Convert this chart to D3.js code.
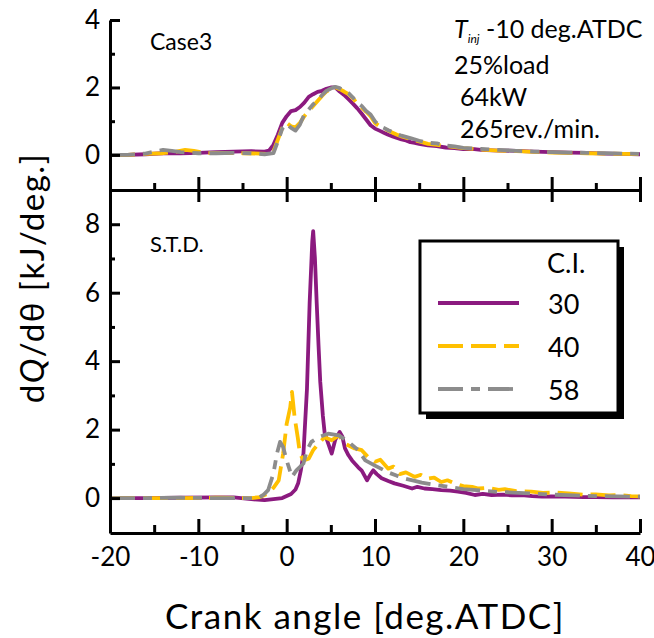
<!DOCTYPE html>
<html>
<head>
<meta charset="utf-8">
<script src="https://cdn.jsdelivr.net/npm/d3@7"></script>
<style>
  body { margin: 0; background: #fff; }
  svg { display: block; }
  text { font-family: Lato, "Open Sans", sans-serif; fill: #000; }
</style>
</head>
<body>
<div id="container"></div>
<script>
let w = 654;
let h = 638;

// DATA  [crank angle (deg.ATDC), dQ/dtheta (kJ/deg.)]
// upper panel : Case3
let case3_ci30 = [[-20,0],[-18,0],[-16,0.02],[-14,0.05],[-12,0.05],[-10,0.06],[-8,0.08],[-6,0.1],[-4,0.11],[-2.5,0.1],[-2,0.13],[-1.5,0.3],[-1,0.6],[-0.5,0.95],[0,1.15],[0.5,1.3],[1,1.33],[1.5,1.42],[2,1.55],[2.5,1.72],[3,1.8],[3.5,1.87],[4,1.9],[4.5,1.96],[5,2.0],[5.5,2.0],[6,1.88],[6.5,1.78],[7,1.65],[7.5,1.52],[8,1.38],[8.5,1.22],[9,1.05],[9.5,0.88],[10,0.78],[10.5,0.72],[11,0.66],[11.5,0.6],[12,0.55],[12.5,0.5],[13,0.46],[13.5,0.43],[14,0.38],[14.5,0.36],[15,0.33],[16,0.28],[17,0.26],[18,0.22],[19,0.2],[20,0.17],[21,0.18],[22,0.15],[24,0.13],[26,0.12],[28,0.1],[30,0.08],[32,0.07],[34,0.06],[36,0.04],[38,0.03],[40,0.02]];
let case3_ci40 = [[-20,0],[-18,0],[-16,0.03],[-14,0.05],[-12.5,0.1],[-11.5,0.15],[-10.5,0.12],[-9,0.05],[-7,0.06],[-5,0.05],[-3,0.04],[-2,0.03],[-1.5,0.1],[-1,0.45],[-0.5,0.8],[0,0.95],[0.5,0.85],[1,0.82],[1.5,0.95],[2,1.15],[2.5,1.3],[3,1.45],[3.5,1.6],[4,1.75],[4.5,1.88],[5,1.95],[5.5,2.0],[6,1.95],[6.5,1.88],[7,1.8],[7.5,1.68],[8,1.52],[8.5,1.4],[9,1.28],[9.5,1.15],[10,0.95],[10.5,0.85],[11,0.78],[11.5,0.72],[12,0.66],[12.5,0.6],[13,0.55],[14,0.47],[15,0.4],[16,0.33],[17,0.3],[18,0.26],[19,0.23],[20,0.2],[22,0.16],[24,0.13],[26,0.11],[28,0.09],[30,0.07],[32,0.06],[34,0.05],[36,0.04],[38,0.03],[40,0.02]];
let case3_ci58 = [[-20,0],[-18,0],[-16,0.04],[-15,0.1],[-14,0.15],[-13,0.12],[-12,0.08],[-10,0.05],[-8,0.05],[-6,0.06],[-4,0.05],[-2.5,0.02],[-1.5,0.05],[-1,0.4],[-0.5,0.78],[0,0.92],[0.5,0.8],[1,0.72],[1.5,0.9],[2,1.2],[2.5,1.35],[3,1.5],[3.5,1.62],[4,1.77],[4.5,1.9],[5,1.97],[5.5,2.02],[6,1.98],[6.5,1.9],[7,1.83],[7.5,1.7],[8,1.55],[8.5,1.45],[9,1.3],[9.5,1.2],[10,1.0],[10.5,0.86],[11,0.8],[11.5,0.73],[12,0.68],[12.5,0.62],[13,0.57],[14,0.5],[15,0.42],[16,0.36],[17,0.34],[18,0.28],[19,0.25],[20,0.21],[22,0.18],[24,0.15],[26,0.12],[28,0.1],[30,0.08],[32,0.07],[34,0.06],[36,0.05],[38,0.04],[40,0.03]];

// lower panel : S.T.D.
let std_ci30 = [[-20,0],[-16,0],[-12,0.01],[-8,0.02],[-6,0.02],[-4,-0.03],[-2.5,-0.06],[-1.5,-0.03],[-0.5,0],[0.5,0.12],[1,0.25],[1.3,0.43],[1.6,0.8],[1.9,1.3],[2.3,3.2],[2.6,5.7],[2.9,7.5],[3.0,7.8],[3.2,7.0],[3.4,5.7],[3.6,4.5],[3.8,3.4],[4.1,2.4],[4.3,1.9],[4.7,1.6],[5.1,1.3],[5.5,1.7],[6.0,1.93],[6.3,1.8],[6.6,1.45],[7.0,1.25],[7.4,1.1],[8.1,0.9],[8.5,0.8],[9.1,0.52],[9.5,0.7],[9.8,0.81],[10.2,0.7],[10.75,0.58],[11.5,0.5],[12.2,0.43],[13.2,0.36],[14.2,0.28],[14.8,0.33],[15.6,0.28],[16.5,0.26],[17.5,0.23],[18.5,0.22],[19.4,0.19],[20.3,0.15],[21.3,0.09],[22.2,0.12],[23.2,0.09],[24.5,0.1],[25.5,0.08],[26.6,0.09],[27.8,0.06],[28.9,0.04],[30,0.05],[31.5,0.04],[33.6,0.03],[35,0.03],[37,0.02],[40,0.02]];
let std_ci40 = [[-20,0],[-16,0],[-12,0],[-8,0.01],[-5,0],[-4,0],[-3,0.03],[-2.1,0.14],[-1.5,0.3],[-0.9,0.52],[-0.4,1.3],[0,2.17],[0.4,2.65],[0.6,3.1],[0.9,2.36],[1.25,1.78],[1.5,1.3],[1.9,1.1],[2.5,1.15],[3.0,1.4],[3.6,1.59],[4.3,1.78],[5.1,1.69],[5.9,1.83],[6.6,1.59],[7.7,1.45],[8.5,1.4],[9.2,1.2],[10,1.06],[10.6,1.12],[11.5,0.86],[12.1,0.92],[12.8,0.7],[13.5,0.75],[14.5,0.62],[15.2,0.68],[16,0.57],[16.7,0.6],[17.5,0.47],[18.2,0.52],[19,0.43],[20,0.35],[21,0.33],[21.7,0.28],[22.8,0.3],[24,0.24],[24.7,0.26],[26,0.2],[27.7,0.19],[29,0.15],[30.5,0.16],[31.9,0.14],[33.5,0.1],[35,0.11],[36.5,0.08],[37.5,0.09],[39,0.06],[40,0.05]];
let std_ci58 = [[-20,0],[-16,0],[-12,0.01],[-8,0],[-5,0],[-3.2,0],[-2.6,0.1],[-2.1,0.23],[-1.5,0.72],[-1.1,1.3],[-0.75,1.64],[-0.4,1.49],[0,1.1],[0.6,0.62],[1.1,0.81],[1.9,1.01],[2.3,1.4],[2.8,1.64],[3.6,1.78],[4.7,1.88],[5.9,1.83],[7.0,1.64],[8.1,1.4],[8.9,1.1],[10,0.95],[11.5,0.75],[12.5,0.65],[13.4,0.57],[14.5,0.5],[15.3,0.45],[16.5,0.4],[18,0.34],[19,0.3],[20,0.26],[22,0.22],[24,0.18],[25,0.17],[27.5,0.14],[30,0.1],[32.5,0.08],[35,0.06],[37.5,0.05],[40,0.04]];

let ciNames = ["30", "40", "58"];
let xTicks = [-20, -10, 0, 10, 20, 30, 40];
let xMinor = [-15, -5, 5, 15, 25, 35];
let topTicks = [0, 2, 4];
let topMinor = [1, 3];
let botTicks = [0, 2, 4, 6, 8];
let botMinor = [1, 3, 5, 7];

// STYLES
let colors = ["#8b1a7f", "#ffc000", "#8c8c8c"];
let dashes = [null, "25,8", "25,8,9,8"];
let fmt = function(d){ return String(d); };   // plain hyphen minus, no decimals

// SVG
let viz = d3.select("#container").append("svg")
    .attr("width", w)
    .attr("height", h)
    .style("background-color", "white");

// SCALES
let xScale = d3.scaleLinear().domain([-20, 40]).range([110, 640]);
let yTop = d3.scaleLinear().domain([-1.04, 4]).range([190, 20]);
let yBot = d3.scaleLinear().domain([-1.02, 9]).range([533, 190]);

function styleAxis(g) {
  g.selectAll("path").attr("stroke", "#000").attr("stroke-width", 3);
  g.selectAll("line").attr("stroke", "#000").attr("stroke-width", 3);
  g.selectAll("text").style("font-size", "26px").attr("fill", "#000");
}

// LINES
function drawLines(panel, yScale, sets) {
  let lineMaker = d3.line()
      .x(function(d){ return xScale(d[0]); })
      .y(function(d){ return yScale(d[1]); });
  sets.forEach(function(s, i){
    panel.append("path")
      .datum(s)
      .attr("d", lineMaker)
      .attr("fill", "none")
      .attr("stroke", colors[i])
      .attr("stroke-width", 3.8)
      .attr("stroke-linejoin", "round")
      .attr("stroke-dasharray", dashes[i]);
  });
}

drawLines(viz.append("g"), yTop, [case3_ci30, case3_ci40, case3_ci58]);
drawLines(viz.append("g"), yBot, [std_ci30, std_ci40, std_ci58]);

// AXES - upper panel
viz.append("g").attr("transform", "translate(110,0)")
  .call(d3.axisLeft(yTop).tickValues(topTicks).tickFormat(fmt).tickSizeInner(-10).tickSizeOuter(0).tickPadding(10))
  .call(styleAxis);
viz.append("g").attr("transform", "translate(110,0)")
  .call(d3.axisLeft(yTop).tickValues(topMinor).tickSizeInner(-5).tickSizeOuter(0).tickFormat(""))
  .call(styleAxis).select(".domain").remove();
viz.append("g").attr("transform", "translate(0,190)")
  .call(d3.axisBottom(xScale).tickValues(xTicks).tickSizeInner(-13).tickSizeOuter(0).tickFormat(""))
  .call(styleAxis);
viz.append("g").attr("transform", "translate(0,190)")
  .call(d3.axisBottom(xScale).tickValues(xMinor).tickSizeInner(-7).tickSizeOuter(0).tickFormat(""))
  .call(styleAxis).select(".domain").remove();

// AXES - lower panel
viz.append("g").attr("transform", "translate(110,0)")
  .call(d3.axisLeft(yBot).tickValues(botTicks).tickFormat(fmt).tickSizeInner(-10).tickSizeOuter(0).tickPadding(10))
  .call(styleAxis);
viz.append("g").attr("transform", "translate(110,0)")
  .call(d3.axisLeft(yBot).tickValues(botMinor).tickSizeInner(-5).tickSizeOuter(0).tickFormat(""))
  .call(styleAxis).select(".domain").remove();
viz.append("g").attr("transform", "translate(0,190)")
  .call(d3.axisTop(xScale).tickValues(xTicks).tickSizeInner(-12).tickSizeOuter(0).tickFormat(""))
  .call(styleAxis).select(".domain").remove();
viz.append("g").attr("transform", "translate(0,533)")
  .call(d3.axisBottom(xScale).tickValues(xTicks).tickFormat(fmt).tickSizeInner(-14).tickSizeOuter(0).tickPadding(15))
  .call(styleAxis);
viz.append("g").attr("transform", "translate(0,533)")
  .call(d3.axisBottom(xScale).tickValues(xMinor).tickSizeInner(-8).tickSizeOuter(0).tickFormat(""))
  .call(styleAxis).select(".domain").remove();

// AXIS TITLES
viz.append("text")
  .attr("x", 365).attr("y", 629)
  .attr("text-anchor", "middle")
  .style("font-size", "35px")
  .style("letter-spacing", "1.5px")
  .text("Crank angle [deg.ATDC]");

let yLab = viz.append("text")
  .attr("transform", "translate(44,278) rotate(-90)")
  .attr("text-anchor", "middle")
  .style("font-size", "33px")
  .style("letter-spacing", "1.5px");
yLab.append("tspan").text("d");
yLab.append("tspan").style("font-style", "italic").text("Q");
yLab.append("tspan").text("/d\u03b8 [kJ/deg.]");

// PANEL NOTES
viz.append("text").attr("x", 150).attr("y", 50).style("font-size", "23px").text("Case3");
viz.append("text").attr("x", 150).attr("y", 252).style("font-size", "22px").text("S.T.D.");

let tinj = viz.append("text").attr("x", 454).attr("y", 38).style("font-size", "25px");
tinj.append("tspan").style("font-style", "italic").text("T");
tinj.append("tspan").style("font-style", "italic").style("font-size", "12px").attr("dy", 5).text("inj");
tinj.append("tspan").attr("dy", -5).text(" -10 deg.ATDC");
viz.append("text").attr("x", 454).attr("y", 74).style("font-size", "25px").text("25%load");
viz.append("text").attr("x", 460).attr("y", 106).style("font-size", "25px").text("64kW");
viz.append("text").attr("x", 460).attr("y", 138).style("font-size", "25px").text("265rev./min.");

// LEGEND
let leg = viz.append("g");
leg.append("rect").attr("x", 426).attr("y", 247).attr("width", 198).attr("height", 172).attr("fill", "#000");
leg.append("rect").attr("x", 420).attr("y", 241).attr("width", 198).attr("height", 172)
  .attr("fill", "#fff").attr("stroke", "#000").attr("stroke-width", 3);
leg.append("text").attr("x", 547).attr("y", 273).style("font-size", "27px").text("C.I.");
ciNames.forEach(function(name, i){
  let yy = 303 + i * 43;
  leg.append("line")
    .attr("x1", 438).attr("x2", 519).attr("y1", yy).attr("y2", yy)
    .attr("stroke", colors[i]).attr("stroke-width", 3.8)
    .attr("stroke-dasharray", dashes[i]);
  leg.append("text").attr("x", 548).attr("y", yy + 11).style("font-size", "27px").text(name);
});
</script>
</body>
</html>
